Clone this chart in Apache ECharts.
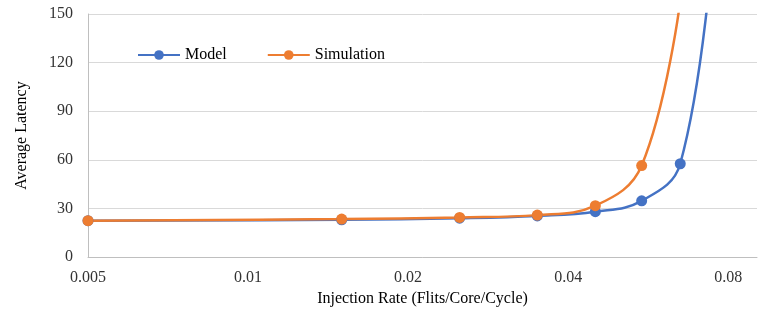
<!DOCTYPE html>
<html>
<head>
<meta charset="utf-8">
<script src="https://cdn.jsdelivr.net/npm/echarts@6/dist/echarts.min.js"></script>
<style>
    html, body {margin: 0; padding: 0; background: #fff;}
    #charts {width: 767px; height: 312px;}
</style>
</head>
<body>
<div id="charts"></div>
<script>
// injection rates (flits/core/cycle), plotted on a base-2 log scale
var rates = [0.005, 0.015, 0.025, 0.035, 0.045, 0.055, 0.065, 0.075];
var modelLatency = [22.5, 23, 24, 25.4, 28, 34.7, 57.6, 195];
var simLatency = [22.5, 23.5, 24.5, 25.9, 31.7, 56.5, 158];
var xTicks = [0.005, 0.01, 0.02, 0.04, 0.08];
var yTicks = [0, 30, 60, 90, 120, 150];

var baseRate = 0.005;
var toAxis = function (r) { return Math.log(r / baseRate) / Math.LN2; };
var pairs = function (ys) {
    return ys.map(function (y, i) { return [toAxis(rates[i]), y]; });
};

var font = 'Liberation Serif, Times New Roman, serif';

var option = {
    animation: false,
    textStyle: {fontFamily: font},
    grid: {left: 88, right: 10, top: 14, bottom: 52},
    legend: {
        left: 132,
        top: 42,
        itemWidth: 42,
        itemHeight: 12,
        itemGap: 40,
        textStyle: {fontFamily: font, fontSize: 16, color: '#000'},
        data: ['Model', 'Simulation']
    },
    xAxis: {
        type: 'value',
        min: 0,
        max: 4.18,
        interval: 1,
        name: 'Injection Rate (Flits/Core/Cycle)',
        nameLocation: 'middle',
        nameGap: 33,
        nameTextStyle: {fontFamily: font, fontSize: 16, color: '#000'},
        splitLine: {show: false},
        axisTick: {show: false},
        axisLine: {lineStyle: {color: '#bfbfbf', width: 1}},
        axisLabel: {
            fontFamily: font,
            fontSize: 16,
            color: '#333',
            margin: 13,
            formatter: function (v) {
                var k = Math.round(v);
                if (Math.abs(v - k) > 1e-6 || k >= xTicks.length) return '';
                return String(xTicks[k]);
            }
        }
    },
    yAxis: {
        type: 'value',
        min: yTicks[0],
        max: yTicks[yTicks.length - 1],
        interval: 30,
        name: 'Average Latency',
        nameLocation: 'middle',
        nameGap: 58,
        nameTextStyle: {fontFamily: font, fontSize: 16, color: '#000'},
        axisLine: {show: true, lineStyle: {color: '#bfbfbf', width: 1}},
        axisTick: {show: false},
        splitLine: {lineStyle: {color: '#d9d9d9', width: 1}},
        axisLabel: {fontFamily: font, fontSize: 16, color: '#333', margin: 15}
    },
    series: [
        {
            name: 'Model',
            type: 'line',
            smooth: 0.4,
            symbol: 'circle',
            symbolSize: 11,
            itemStyle: {color: '#4472C4'},
            lineStyle: {color: '#4472C4', width: 2.5},
            data: pairs(modelLatency)
        },
        {
            name: 'Simulation',
            type: 'line',
            smooth: 0.4,
            symbol: 'circle',
            symbolSize: 11,
            itemStyle: {color: '#ED7D31'},
            lineStyle: {color: '#ED7D31', width: 2.5},
            data: pairs(simLatency)
        }
    ]
};

var myChart = echarts.init(document.getElementById('charts'));
myChart.setOption(option);
</script>
</body>
</html>
